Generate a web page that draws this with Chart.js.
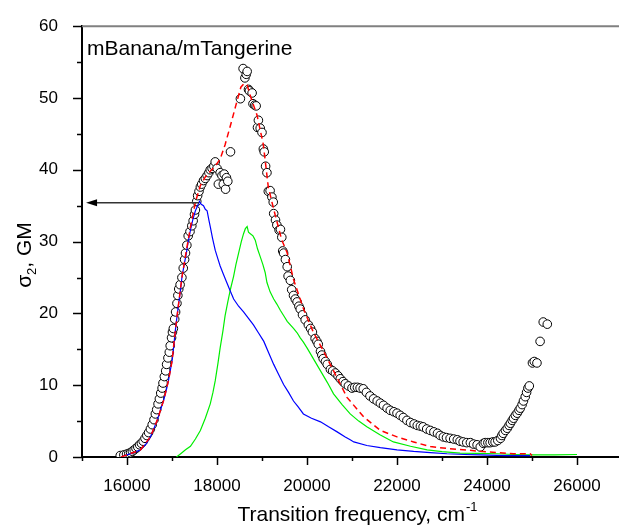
<!DOCTYPE html>
<html>
<head>
<meta charset="utf-8">
<script src="https://cdn.jsdelivr.net/npm/chart.js@4.4.1/dist/chart.umd.min.js"></script>
<style>
  html, body { margin: 0; padding: 0; background: #fff; overflow: hidden; }
  #wrap { position: relative; width: 640px; height: 529px; }
</style>
</head>
<body>
<div id="wrap"><canvas id="chart"></canvas></div>
<script>
// measured two-photon cross section (open circles)
const measuredFreq = [
  15850, 15930, 15990, 16040, 16080, 16120, 16160, 16200, 16240, 16280,
  16320, 16360, 16400, 16440, 16480, 16520, 16560, 16600, 16630, 16660,
  16690, 16720, 16750, 16780, 16800, 16830, 16860, 16880, 16910, 16940,
  16960, 16990, 17010, 17030, 17060, 17080, 17110, 17130, 17150, 17180,
  17220, 17250, 17280, 17300, 17330, 17360, 17400, 17440, 17470, 17500,
  17520, 17550, 17570, 17600, 17630, 17660, 17700, 17740, 17780, 17820,
  17850, 17890, 17930, 17960, 18000, 18030, 18070, 18110, 18140, 18160,
  18190, 18210, 18240, 18300, 18520, 18580, 18620, 18650, 18670, 18700,
  18720, 18780, 18800, 18840, 18870, 18900, 18920, 18960, 19000, 19030,
  19050, 19080, 19110, 19140, 19180, 19220, 19250, 19260, 19300, 19330,
  19380, 19410, 19440, 19460, 19480, 19520, 19560, 19580, 19630, 19660,
  19700, 19740, 19780, 19820, 19850, 19900, 19960, 20030, 20080, 20120,
  20180, 20220, 20250, 20300, 20330, 20360, 20410, 20450, 20520, 20570,
  20630, 20690, 20740, 20800, 20850, 20920, 21000, 21060, 21120, 21180,
  21250, 21320, 21400, 21480, 21560, 21630, 21700, 21780, 21850, 21930,
  22000, 22070, 22140, 22220, 22300, 22380, 22450, 22520, 22580, 22660,
  22740, 22820, 22900, 22960, 23030, 23100, 23180, 23260, 23340, 23400,
  23470, 23550, 23630, 23700, 23780, 23850, 23920, 23960, 24020, 24070,
  24130, 24180, 24240, 24300, 24330, 24360, 24410, 24450, 24490, 24520,
  24560, 24590, 24630, 24670, 24710, 24740, 24780, 24810, 24850, 24880,
  24910, 24940, 25010, 25050, 25110, 25180, 25250, 25340
];
const measuredSigma = [
  0.2, 0.3, 0.4, 0.5, 0.6, 0.8, 1.0, 1.2, 1.4, 1.7,
  1.9, 2.2, 2.6, 3.0, 3.4, 3.9, 4.5, 5.2, 6.0, 6.6,
  7.4, 8.1, 8.9, 9.6, 10.3, 11.2, 12.0, 12.9, 13.8, 14.6,
  15.5, 16.6, 17.4, 17.9, 19.2, 20.2, 21.4, 22.5, 23.4, 24.0,
  25.0, 26.3, 27.5, 28.4, 29.5, 30.8, 31.4, 32.2, 32.9, 33.8,
  34.4, 35.6, 36.4, 37.0, 37.6, 38.0, 38.5, 38.8, 39.2, 39.6,
  40.0, 40.2, 40.5, 41.1, 40.2, 38.0, 39.6, 39.2, 38.0, 39.4,
  37.3, 38.9, 38.4, 42.5, 49.9, 54.1, 52.8, 53.3, 53.7, 51.2,
  51.0, 50.7, 49.2, 49.0, 48.9, 45.9, 46.9, 45.8, 45.2, 42.9,
  42.5, 40.5, 39.6, 37.0, 37.1, 36.2, 35.5, 33.9, 33.0, 32.3,
  31.6, 31.7, 30.6, 28.7, 28.4, 27.5, 26.5, 25.2, 24.6, 23.3,
  22.5, 22.0, 21.6, 21.0, 20.6, 19.8, 19.1, 18.4, 17.9, 17.4,
  16.5, 16.1, 15.7, 14.7, 14.2, 13.7, 13.3, 12.9, 12.2, 12.0,
  11.7, 11.3, 10.9, 10.5, 10.2, 9.9, 9.6, 9.7, 9.7, 9.6,
  9.5, 9.0, 8.5, 8.1, 7.8, 7.5, 7.2, 6.8, 6.5, 6.3,
  6.1, 5.8, 5.5, 5.1, 4.8, 4.6, 4.4, 4.3, 4.2, 3.9,
  3.7, 3.5, 3.3, 3.0, 2.8, 2.7, 2.6, 2.5, 2.4, 2.2,
  2.1, 2.0, 2.0, 1.8, 1.7, 1.4, 1.9, 2.0, 2.0, 2.0,
  2.1, 2.1, 2.3, 2.6, 3.0, 3.3, 3.7, 4.0, 4.4, 4.7,
  5.1, 5.4, 5.8, 6.1, 6.5, 6.8, 7.3, 7.8, 8.4, 9.0,
  9.6, 9.9, 13.1, 13.3, 13.1, 16.1, 18.8, 18.5
];

// blue component
const blueFreq = [
  15870, 15950, 16000, 16150, 16300, 16420, 16520, 16600, 16670, 16740,
  16810, 16870, 16920, 16960, 17000, 17040, 17070, 17110, 17150, 17190,
  17220, 17270, 17320, 17360, 17410, 17460, 17520, 17570, 17610, 17650,
  17700, 17740, 17780, 17820, 17850, 17900, 17960, 18020, 18070, 18140,
  18210, 18290, 18370, 18480, 18590, 18700, 18810, 18920, 19040, 19150,
  19260, 19370, 19480, 19590, 19700, 19800, 19920, 20100, 20300, 20480,
  20670, 20850, 20960, 21040, 21330, 21630, 22000, 22370, 22740, 23110,
  23500, 23850, 24400, 24960
];
const blueSigma = [
  0.0, 0.2, 0.3, 0.6, 1.0, 1.8, 2.8, 4.0, 5.1, 6.5,
  7.8, 9.2, 10.6, 12.0, 13.3, 15.5, 17.4, 19.5, 21.5, 23.3,
  25.0, 26.8, 28.4, 30.0, 31.6, 33.0, 34.3, 35.0, 35.6, 35.2,
  35.0, 34.5, 34.3, 33.0, 32.1, 30.5, 28.8, 27.6, 26.6, 25.5,
  24.4, 23.2, 22.0, 21.0, 20.2, 19.3, 18.4, 17.3, 16.1, 14.5,
  12.9, 11.5, 10.1, 9.0, 7.8, 7.0, 6.0, 5.4, 4.9, 4.2,
  3.5, 2.8, 2.4, 2.1, 1.6, 1.3, 1.0, 0.77, 0.6, 0.45,
  0.35, 0.3, 0.2, 0.18
];

// green component
const greenFreq = [
  17100, 17200, 17300, 17410, 17520, 17630, 17740, 17850, 17910, 17960,
  18020, 18070, 18130, 18180, 18240, 18300, 18370, 18420, 18480, 18540,
  18590, 18630, 18670, 18700, 18740, 18800, 18850, 18900, 18960, 19020,
  19070, 19110, 19180, 19260, 19330, 19410, 19480, 19560, 19700, 19780,
  19850, 19920, 20000, 20150, 20300, 20450, 20590, 20780, 20960, 21150,
  21330, 21620, 21920, 22300, 22670, 23000, 23400, 23800, 24220, 24600,
  24960, 25500, 26000
];
const greenSigma = [
  0.0, 0.5, 1.0, 1.5, 2.5, 3.7, 5.4, 7.4, 9.0, 10.6,
  13.0, 15.2, 17.5, 19.7, 21.6, 23.4, 25.2, 26.8, 28.4, 30.0,
  31.1, 31.8, 32.1, 31.3, 31.1, 30.8, 30.2, 29.0, 27.9, 26.8,
  25.7, 24.3, 23.0, 22.0, 21.3, 20.4, 19.7, 18.9, 17.9, 17.3,
  16.6, 16.0, 15.2, 13.6, 12.0, 10.4, 8.8, 7.3, 6.0, 5.0,
  4.2, 3.1, 2.1, 1.5, 1.0, 0.75, 0.55, 0.5, 0.45, 0.35,
  0.3, 0.3, 0.35
];

// sum of both components (red dashed)
const fitFreq = [
  15870, 16000, 16300, 16520, 16670, 16810, 16920, 17000, 17070, 17150,
  17220, 17320, 17410, 17520, 17630, 17740, 17850, 17960, 18070, 18180,
  18300, 18420, 18530, 18600, 18670, 18740, 18890, 19030, 19140, 19260,
  19440, 19556, 19702, 19924, 20140, 20370, 20591, 20889, 21258, 21629,
  22000, 22369, 22740, 23111, 23851, 24590, 24960, 25000
];
const fitSigma = [
  0.0, 0.3, 1.0, 2.8, 5.1, 7.8, 10.6, 13.3, 17.4, 21.5,
  25.0, 28.8, 32.0, 35.5, 37.8, 39.0, 39.8, 40.5, 41.5, 43.5,
  46.2, 49.0, 51.5, 52.0, 51.8, 50.3, 47.6, 43.5, 37.6, 34.5,
  30.2, 28.5, 24.7, 20.6, 17.4, 14.7, 12.0, 8.3, 5.6, 3.7,
  2.8, 2.1, 1.45, 1.2, 0.8, 0.45, 0.45, 0.2
];

const xTicksMajor = [16000, 18000, 20000, 22000, 24000, 26000];
const yTicksMajor = [0, 10, 20, 30, 40, 50, 60];

// arrow pointing from the blue peak to the sigma axis
const arrowFrom = { x: 17600, y: 35.4 };
const arrowTo = { x: 15090, y: 35.4 };

const FONT = '"Liberation Sans", Arial, sans-serif';

function toPoints(xs, ys) {
  return xs.map((x, i) => ({ x: x, y: ys[i] }));
}

const decorPlugin = {
  id: 'decor',
  afterDraw(chart) {
    const ctx = chart.ctx;
    const area = chart.chartArea;
    const xs = chart.scales.x;
    const ys = chart.scales.y;
    ctx.save();

    // top frame line
    ctx.strokeStyle = '#808080';
    ctx.lineWidth = 2;
    ctx.beginPath();
    ctx.moveTo(area.left, area.top);
    ctx.lineTo(area.right + 5, area.top);
    ctx.stroke();

    // tick marks
    ctx.strokeStyle = '#000';
    ctx.lineWidth = 1.5;
    for (let v = xs.min; v <= xs.max; v += 1000) {
      const px = Math.round(xs.getPixelForValue(v)) + 0.5;
      const len = xTicksMajor.includes(v) ? 8 : 4;
      ctx.beginPath();
      ctx.moveTo(px, area.bottom);
      ctx.lineTo(px, area.bottom + len);
      ctx.stroke();
    }
    for (let v = ys.min; v <= ys.max; v += 5) {
      const py = Math.round(ys.getPixelForValue(v)) + 0.5;
      const len = yTicksMajor.includes(v) ? 9 : 5;
      ctx.beginPath();
      ctx.moveTo(area.left - len, py);
      ctx.lineTo(area.left, py);
      ctx.stroke();
    }

    // arrow
    const ax0 = xs.getPixelForValue(arrowFrom.x);
    const ax1 = xs.getPixelForValue(arrowTo.x);
    const ay = ys.getPixelForValue(arrowFrom.y);
    ctx.strokeStyle = '#333';
    ctx.fillStyle = '#000';
    ctx.lineWidth = 1.5;
    ctx.beginPath();
    ctx.moveTo(ax0, ay);
    ctx.lineTo(ax1 + 8, ay);
    ctx.stroke();
    ctx.beginPath();
    ctx.moveTo(ax1, ay);
    ctx.lineTo(ax1 + 11, ay - 3.5);
    ctx.lineTo(ax1 + 11, ay + 3.5);
    ctx.closePath();
    ctx.fill();

    // label inside plot
    ctx.fillStyle = '#000';
    ctx.font = '21px ' + FONT;
    ctx.textAlign = 'left';
    ctx.textBaseline = 'alphabetic';
    ctx.fillText('mBanana/mTangerine', area.left + 5, area.top + 29);

    // x title with superscript
    const main = 'Transition frequency, cm';
    const sup = '-1';
    ctx.font = '21px ' + FONT;
    const wMain = ctx.measureText(main).width;
    ctx.font = '13px ' + FONT;
    const wSup = ctx.measureText(sup).width;
    const xStart = 357 - (wMain + wSup) / 2;
    const xBase = 521;
    ctx.font = '21px ' + FONT;
    ctx.fillText(main, xStart, xBase);
    ctx.font = '13px ' + FONT;
    ctx.fillText(sup, xStart + wMain + 1, xBase - 10);

    // y title with subscript, rotated
    ctx.translate(31, 255);
    ctx.rotate(-Math.PI / 2);
    ctx.font = '21px ' + FONT;
    const wSig = ctx.measureText('\u03c3').width;
    const wRest = ctx.measureText(', GM').width;
    ctx.font = '13px ' + FONT;
    const wSub = ctx.measureText('2').width;
    let tx = -(wSig + wSub + wRest) / 2;
    ctx.font = '21px ' + FONT;
    ctx.fillText('\u03c3', tx, 0);
    tx += wSig;
    ctx.font = '13px ' + FONT;
    ctx.fillText('2', tx, 5);
    tx += wSub;
    ctx.font = '21px ' + FONT;
    ctx.fillText(', GM', tx, 0);

    ctx.restore();
  }
};

new Chart(document.getElementById('chart'), {
  type: 'scatter',
  data: {
    datasets: [
      {
        label: 'fit',
        data: toPoints(fitFreq, fitSigma),
        showLine: true,
        borderColor: '#ff0000',
        borderWidth: 1.5,
        borderDash: [6, 4],
        pointRadius: 0,
        fill: false,
        order: 1
      },
      {
        label: 'blue',
        data: toPoints(blueFreq, blueSigma),
        showLine: true,
        borderColor: '#0000ff',
        borderWidth: 1.2,
        pointRadius: 0,
        fill: false,
        order: 2
      },
      {
        label: 'green',
        data: toPoints(greenFreq, greenSigma),
        showLine: true,
        borderColor: '#00ee00',
        borderWidth: 1.2,
        pointRadius: 0,
        fill: false,
        order: 3
      },
      {
        label: 'measured',
        data: toPoints(measuredFreq, measuredSigma),
        showLine: false,
        pointRadius: 4.3,
        pointBorderWidth: 1,
        pointBorderColor: '#000',
        pointBackgroundColor: '#fff',
        order: 10
      }
    ]
  },
  options: {
    responsive: true,
    maintainAspectRatio: false,
    animation: false,
    devicePixelRatio: 1,
    layout: { padding: { top: 19, right: 18, left: 0, bottom: 0 } },
    plugins: {
      legend: { display: false },
      tooltip: { enabled: false }
    },
    scales: {
      x: {
        type: 'linear',
        min: 15000,
        max: 27000,
        grid: { display: false },
        border: { display: true, color: '#000', width: 2 },
        ticks: {
          stepSize: 1000,
          autoSkip: false,
          maxRotation: 0,
          padding: 11,
          color: '#000',
          font: { family: FONT, size: 17 },
          callback: (v) => (xTicksMajor.includes(v) ? String(v) : '')
        },
        afterFit: (scale) => { scale.height = 72; }
      },
      y: {
        type: 'linear',
        min: 0,
        max: 60,
        grid: { display: false },
        border: { display: true, color: '#000', width: 2 },
        ticks: {
          stepSize: 5,
          autoSkip: false,
          padding: 16,
          color: '#000',
          font: { family: FONT, size: 17 },
          callback: (v) => (yTicksMajor.includes(v) ? String(v) : '')
        },
        afterFit: (scale) => { scale.width = 82; }
      }
    }
  },
  plugins: [decorPlugin]
});
</script>
</body>
</html>
